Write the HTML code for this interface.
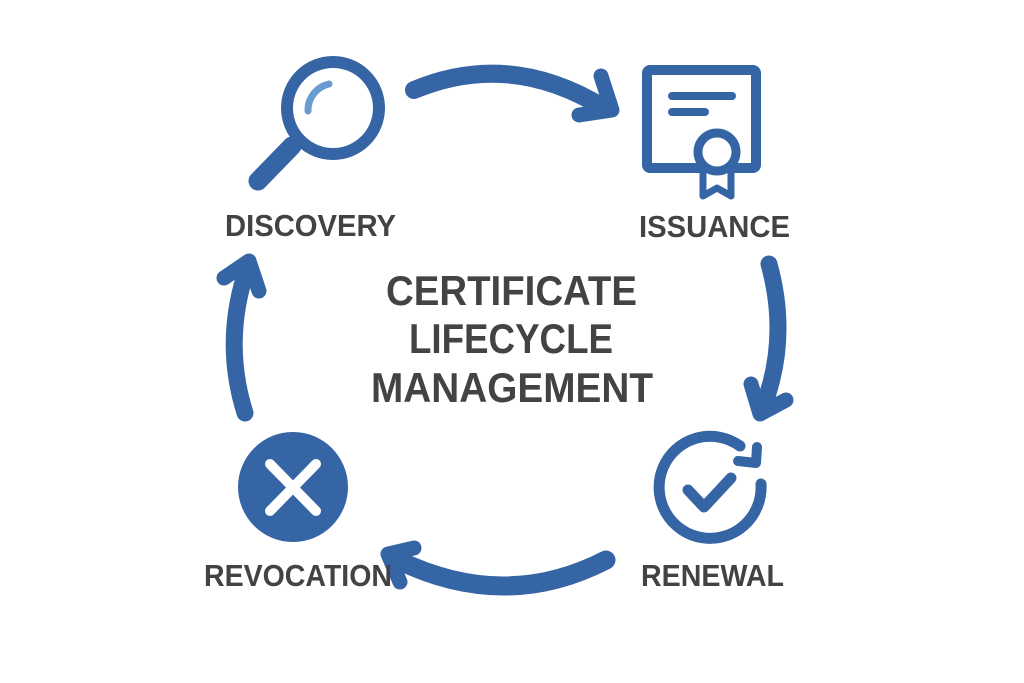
<!DOCTYPE html>
<html><head><meta charset="utf-8"><style>
html,body{margin:0;padding:0;background:#fff;}
svg{display:block;}
text{font-family:"Liberation Sans",sans-serif;font-weight:bold;fill:#434343;}
</style></head><body>
<svg width="1024" height="683" viewBox="0 0 1024 683" xmlns="http://www.w3.org/2000/svg">
<g fill="none" stroke="#3565a5" stroke-linecap="round" stroke-linejoin="round">
  <circle cx="333" cy="108" r="46" stroke-width="12"/>
  <path d="M308,111 A27,27 0 0 1 329,84" stroke="#6a9bd1" stroke-width="7"/>
  <line x1="292" y1="146" x2="258" y2="181" stroke-width="19"/>
  <path d="M414,90 Q510,50 604,108" stroke-width="18"/>
  <path d="M601,76 L612,110 L579,115" stroke-width="15"/>
  <rect x="647" y="70" width="109" height="98" rx="3" stroke-width="10"/>
  <line x1="672" y1="96" x2="732" y2="96" stroke-width="8"/>
  <line x1="672" y1="112" x2="705" y2="112" stroke-width="8"/>
  <path d="M703,168 V196 L717,188 L731,196 V168" stroke-width="7" fill="#fff"/>
  <circle cx="717" cy="152" r="19" stroke-width="9" fill="#fff"/>
  <path d="M769,264 Q790,340 762,410" stroke-width="17"/>
  <path d="M751,384 L760,414 L786,400" stroke-width="15"/>
  <path d="M761,484 A51,51 0 1 1 740,446" stroke-width="11"/>
  <path d="M738,461 L756,463 L757,447" stroke-width="10"/>
  <path d="M688,490 L704,507 L731,478" stroke-width="11"/>
  <path d="M606,560 Q505,612 398,560" stroke-width="19"/>
  <path d="M414,548 L388,554 L400,582" stroke-width="15"/>
  <path d="M245,413 Q222,340 248,266" stroke-width="17"/>
  <path d="M224,278 L249,261 L259,291" stroke-width="15"/>
</g>
<circle cx="293" cy="487" r="55" fill="#3565a5"/>
<g stroke="#fff" stroke-width="10" stroke-linecap="round">
  <line x1="270" y1="464" x2="316" y2="511"/>
  <line x1="316" y1="464" x2="270" y2="511"/>
</g>
<text x="225" y="236" font-size="31" textLength="171" lengthAdjust="spacingAndGlyphs">DISCOVERY</text>
<text x="639" y="237" font-size="31" textLength="151" lengthAdjust="spacingAndGlyphs">ISSUANCE</text>
<text x="204" y="586" font-size="31" textLength="188" lengthAdjust="spacingAndGlyphs">REVOCATION</text>
<text x="641" y="586" font-size="31" textLength="143" lengthAdjust="spacingAndGlyphs">RENEWAL</text>
<text x="386" y="305" font-size="42" textLength="251" lengthAdjust="spacingAndGlyphs">CERTIFICATE</text>
<text x="409" y="353" font-size="42" textLength="204" lengthAdjust="spacingAndGlyphs">LIFECYCLE</text>
<text x="371" y="402" font-size="42" textLength="282" lengthAdjust="spacingAndGlyphs">MANAGEMENT</text>
</svg>
</body></html>
